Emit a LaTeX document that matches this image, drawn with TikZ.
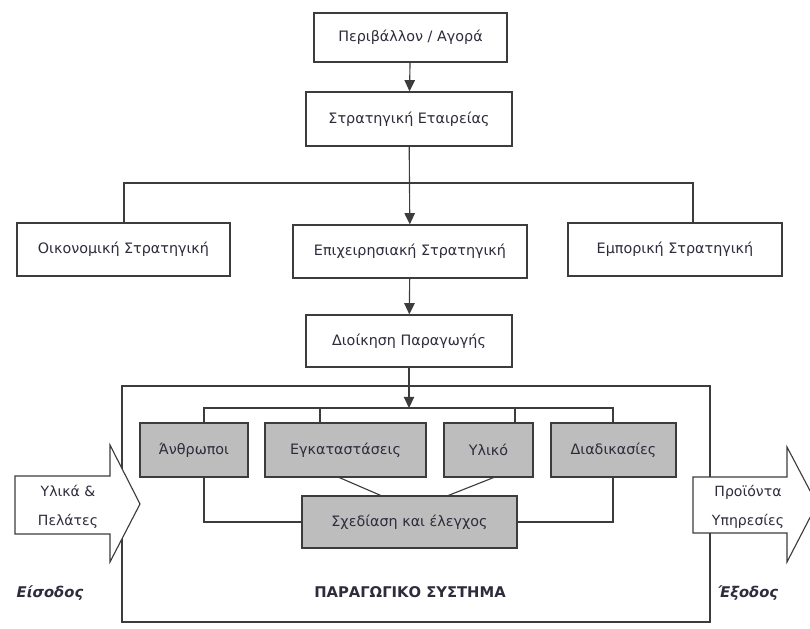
\documentclass[tikz,border=0pt]{standalone}
\usepackage{fontspec}
\setmainfont{DejaVu Sans}
\usepackage{tikz}
\usetikzlibrary{arrows.meta}

\definecolor{boxline}{HTML}{3C3C3C}
\definecolor{boxtext}{HTML}{2C2C3C}
\definecolor{subfill}{HTML}{BDBDBD}

\begin{document}
\begin{tikzpicture}[x=0.025cm,y=-0.025cm,
	box/.style={draw=boxline,line width=0.9pt,fill=white,text=boxtext,font=\fontsize{10.2}{12}\selectfont,inner sep=0pt},
	part/.style={box,fill=subfill,minimum height=1.35cm},
	link/.style={draw=boxline,line width=0.8pt},
	flow/.style={link,-{Triangle[length=2.8mm,width=2.6mm]}},
	tag/.style={text=boxtext,font=\fontsize{10.5}{12}\selectfont\bfseries}]

	\useasboundingbox (0,0) rectangle (810,629);

	\node[box,minimum width=4.825cm,minimum height=1.225cm] (env) at (410.5,37.5) {Περιβάλλον / Αγορά};
	\node[box,minimum width=5.15cm,minimum height=1.35cm] (strat) at (409,119) {Στρατηγική Εταιρείας};
	\node[box,minimum width=5.325cm,minimum height=1.325cm] (fin) at (123.5,249.5) {Οικονομική Στρατηγική};
	\node[box,minimum width=5.85cm,minimum height=1.325cm] (oper) at (410,251.5) {Επιχειρησιακή Στρατηγική};
	\node[box,minimum width=5.35cm,minimum height=1.325cm] (comm) at (675,249.5) {Εμπορική Στρατηγική};
	\node[box,minimum width=5.15cm,minimum height=1.3cm] (prod) at (409,341) {Διοίκηση Παραγωγής};

	\node[box,fill=none,minimum width=14.7cm,minimum height=5.9cm] (sys) at (416,504) {};

	\node[part,minimum width=2.7cm] (people) at (194,450) {Άνθρωποι};
	\node[part,minimum width=4.025cm] (plant) at (345.5,450) {Εγκαταστάσεις};
	\node[part,minimum width=2.225cm] (mat) at (488.5,450) {Υλικό};
	\node[part,minimum width=3.125cm] (proc) at (613.5,450) {Διαδικασίες};
	\node[part,minimum width=5.375cm,minimum height=1.3cm] (design) at (409.5,522) {Σχεδίαση και έλεγχος};

	\coordinate (split) at (409,183);
	\coordinate (cl) at (124,183);
	\coordinate (cr) at (693,183);
	\coordinate (bus) at (409,408);
	\coordinate (bl) at (204,408);
	\coordinate (bp) at (320,408);
	\coordinate (bm) at (515,408);
	\coordinate (br) at (613,408);
	\coordinate (pl) at (338,477);
	\coordinate (ml) at (495,477);
	\coordinate (dl) at (382,496);
	\coordinate (dr) at (447,496);

	\draw[flow] (env) -- (strat);
	\draw[flow] (strat) -- (oper);
	\draw[link] (cl |- fin.north) -- (cl) -- (cr) -- (cr |- comm.north);
	\draw[flow] (oper) -- (prod);
	\draw[flow] (prod) -- (bus);

	\draw[link] (bl |- people.north) -- (bl) -- (br) -- (br |- proc.north);
	\draw[link] (bp) -- (bp |- plant.north);
	\draw[link] (bm) -- (bm |- mat.north);
	\draw[link] (bl |- people.south) |- (design.west);
	\draw[link] (br |- proc.south) |- (design.east);
	\draw[link] (pl) -- (dl);
	\draw[link] (ml) -- (dr);

	\draw[link,fill=white] (15,476) -- (110,476) -- (110,445) -- (140,504) -- (110,562) -- (110,534) -- (15,534) -- cycle;
	\draw[link,fill=white] (693,477) -- (787,477) -- (787,447) -- (817,504) -- (787,562) -- (787,533) -- (693,533) -- cycle;

	\node[text=boxtext,align=center,font=\fontsize{10}{21}\selectfont] (input) at (68,507) {Υλικά \&\\Πελάτες};
	\node[text=boxtext,align=center,font=\fontsize{10}{21}\selectfont] (output) at (748,507) {Προϊόντα\\Υπηρεσίες};

	\node[tag,font=\fontsize{10.5}{12}\selectfont\bfseries\itshape] (inlabel) at (50,593) {Είσοδος};
	\node[tag,font=\fontsize{10.5}{12}\selectfont\bfseries\itshape] (outlabel) at (748,593) {Έξοδος};
	\node[tag] (syslabel) at (410,592) {ΠΑΡΑΓΩΓΙΚΟ ΣΥΣΤΗΜΑ};

\end{tikzpicture}
\end{document}
